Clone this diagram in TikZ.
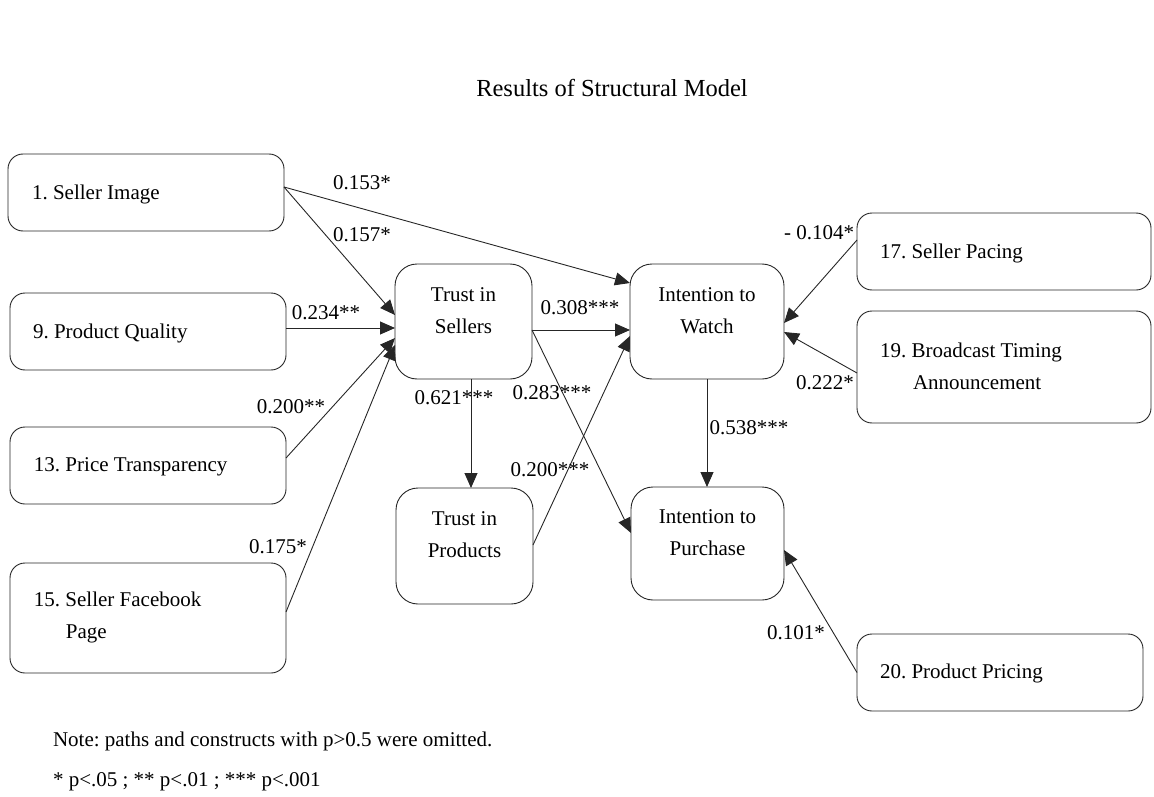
\documentclass[tikz,border=0pt]{standalone}
\usepackage{fontspec}
\setmainfont{Liberation Serif}
\usetikzlibrary{arrows.meta}
\frenchspacing

\begin{document}
\begin{tikzpicture}[x=1pt,y=-1pt,
  every node/.style={inner sep=0pt, outer sep=0pt},
  wide/.style={draw=black!85, line width=0.9pt, rounded corners=15pt, rectangle},
  sq/.style={draw=black!85, line width=0.9pt, rounded corners=22pt, rectangle},
  txt/.style={font=\fontsize{21}{32}\selectfont, align=left, anchor=west},
  ctxt/.style={font=\fontsize{21}{32}\selectfont, align=center},
  coef/.style={font=\fontsize{21}{24}\selectfont},
  notetxt/.style={font=\fontsize{21}{24}\selectfont, anchor=west},
  path/.style={draw=black!85, line width=0.9pt, -{Triangle[length=15pt,width=13pt]}}
]
\useasboundingbox (0,0) rectangle (1154,797);

% title and notes
\node[font=\fontsize{24.5}{28}\selectfont] (title) at (612,88) {Results of Structural Model};
\node[notetxt] (note1) at (53,741) {Note: paths and constructs with p>0.5 were omitted.};
\node[notetxt] (note2) at (53,782) {* p<.05 ; ** p<.01 ; *** p<.001};

% antecedent constructs on the left
\node[wide, minimum width=276pt, minimum height=77pt] (si) at (146,192.5) {};
\node[wide, minimum width=276pt, minimum height=77pt] (pq) at (148,331.5) {};
\node[wide, minimum width=276pt, minimum height=77pt] (pt) at (148,465.5) {};
\node[wide, minimum width=276pt, minimum height=110pt] (fb) at (148,618) {};
\node[txt] (si-t) at (32,194) {1. Seller Image};
\node[txt] (pq-t) at (33,333) {9. Product Quality};
\node[txt] (pt-t) at (34,467) {13. Price Transparency};
\node[txt] (fb-t) at (34,617) {15. Seller Facebook\\\hspace*{32pt}Page};

% mediating and outcome constructs
\node[sq, minimum width=137pt, minimum height=115pt] (tis) at (463.5,321.5) {};
\node[sq, minimum width=137pt, minimum height=116pt] (tip) at (464.5,546) {};
\node[sq, minimum width=154pt, minimum height=115pt] (iw) at (707,321.5) {};
\node[sq, minimum width=153pt, minimum height=113pt] (ip) at (707.5,543.5) {};
\node[ctxt] (tis-t) at (463.5,311) {Trust in\\Sellers};
\node[ctxt] (tip-t) at (464.5,535) {Trust in\\Products};
\node[ctxt] (iw-t) at (707,311) {Intention to\\Watch};
\node[ctxt] (ip-t) at (707.5,533) {Intention to\\Purchase};

% antecedent constructs on the right
\node[wide, minimum width=294pt, minimum height=77pt] (sp) at (1004,251.5) {};
\node[wide, minimum width=294pt, minimum height=112pt] (bt) at (1004,367) {};
\node[wide, minimum width=286pt, minimum height=77pt] (pp) at (1000,672.5) {};
\node[txt] (sp-t) at (880,253) {17. Seller Pacing};
\node[txt] (bt-t) at (880,366) {19. Broadcast Timing\\\hspace*{33pt}Announcement};
\node[txt] (pp-t) at (880,673) {20. Product Pricing};

% structural paths
\draw[path] ([yshift=5.5pt]si.east) -- ([yshift=38.5pt]iw.west);
\draw[path] ([yshift=5.5pt]si.east) -- ([yshift=6.5pt]tis.west);
\draw[path] ([yshift=3.5pt]pq.east) -- ([yshift=-6.5pt]tis.west);
\draw[path] ([yshift=7.5pt]pt.east) -- ([yshift=-16.5pt]tis.west);
\draw[path] ([yshift=6pt]fb.east) -- ([yshift=-23.5pt]tis.west);
\draw[path] ([yshift=-8.5pt]tis.east) -- ([yshift=-8.5pt]iw.west);
\draw[path] ([xshift=7.5pt]tis.south) -- ([xshift=6.5pt]tip.north);
\draw[path] ([yshift=-8.5pt]tis.east) -- ([yshift=10.5pt]ip.west);
\draw[path] ([yshift=1pt]tip.east) -- ([yshift=-14.5pt]iw.west);
\draw[path] (iw.south) -- ([xshift=-0.5pt]ip.north);
\draw[path] ([yshift=11.5pt]sp.west) -- ([yshift=-1.5pt]iw.east);
\draw[path] ([yshift=-6pt]bt.west) -- ([yshift=-10.5pt]iw.east);
\draw[path] (pp.west) -- ([yshift=-6.5pt]ip.east);

% path coefficients
\node[coef] (c1) at (362,183) {0.153*};
\node[coef] (c2) at (362,235) {0.157*};
\node[coef] (c3) at (326,313) {0.234**};
\node[coef] (c4) at (291,407) {0.200**};
\node[coef] (c5) at (278,547) {0.175*};
\node[coef] (c6) at (580,308) {0.308***};
\node[coef] (c7) at (454,398) {0.621***};
\node[coef] (c8) at (552,393) {0.283***};
\node[coef] (c9) at (550,470) {0.200***};
\node[coef] (c10) at (749,428) {0.538***};
\node[coef] (c11) at (819,233) {- 0.104*};
\node[coef] (c12) at (825,383) {0.222*};
\node[coef] (c13) at (796,633) {0.101*};
\end{tikzpicture}
\end{document}
